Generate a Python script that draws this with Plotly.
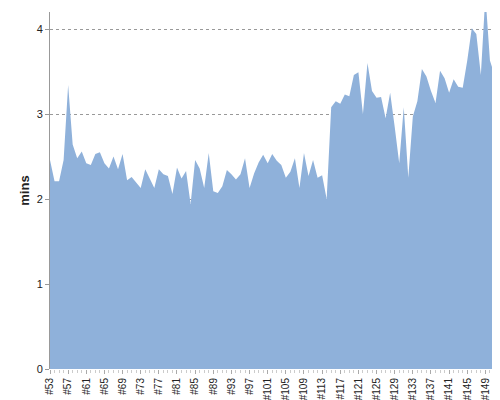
import plotly.graph_objects as go

builds = [f"#{n}" for n in range(53, 153)]
mins = [2.46,2.21,2.21,2.46,3.34,2.64,2.48,2.56,2.42,2.40,
        2.53,2.55,2.42,2.36,2.50,2.35,2.53,2.22,2.26,2.20,
        2.13,2.35,2.24,2.13,2.35,2.29,2.27,2.06,2.37,2.24,
        2.33,1.94,2.46,2.36,2.13,2.54,2.09,2.07,2.15,2.34,
        2.29,2.23,2.29,2.48,2.13,2.30,2.43,2.52,2.42,2.53,
        2.45,2.40,2.25,2.32,2.48,2.13,2.54,2.27,2.46,2.25,
        2.28,2.00,3.08,3.15,3.12,3.23,3.21,3.46,3.49,3.00,
        3.60,3.27,3.19,3.20,2.95,3.25,2.85,2.42,3.08,2.25,
        2.97,3.15,3.53,3.44,3.27,3.13,3.51,3.42,3.25,3.41,
        3.32,3.31,3.63,4.01,3.94,3.46,4.40,3.63,3.46,3.47]
tick_labels = builds[::4]

fig = go.Figure(go.Scatter(x=builds, y=mins, mode="lines", fill="tozeroy",
                           line=dict(width=0, color="#8fb1da"), fillcolor="#8fb1da"))
fig.update_layout(
    width=500, height=400, margin=dict(l=42, r=9, t=4, b=39),
    plot_bgcolor="white", paper_bgcolor="white", showlegend=False,
    font=dict(family="Liberation Sans, Arial", size=11, color="#222"),
)
fig.update_xaxes(tickmode="array", tickvals=tick_labels, ticktext=tick_labels,
                 tickangle=-90, showgrid=False, range=[0, 99], automargin=False,
                 ticks="outside", ticklen=4, tickcolor="#aaa",
                 minor=dict(ticks="outside", ticklen=3, tickcolor="#ccc", dtick=1, showgrid=False),
                 tickfont=dict(size=10))
fig.update_yaxes(range=[0, 4.2], tickvals=[0, 1, 2, 3, 4], showgrid=True, automargin=False,
                 gridcolor="#999", griddash="dot", showline=True, linecolor="#999",
                 ticks="outside", ticklen=4, tickcolor="#999", zeroline=False,
                 title=dict(text="<b>mins</b>", font=dict(size=13), standoff=4))
fig.write_html("out.html")
